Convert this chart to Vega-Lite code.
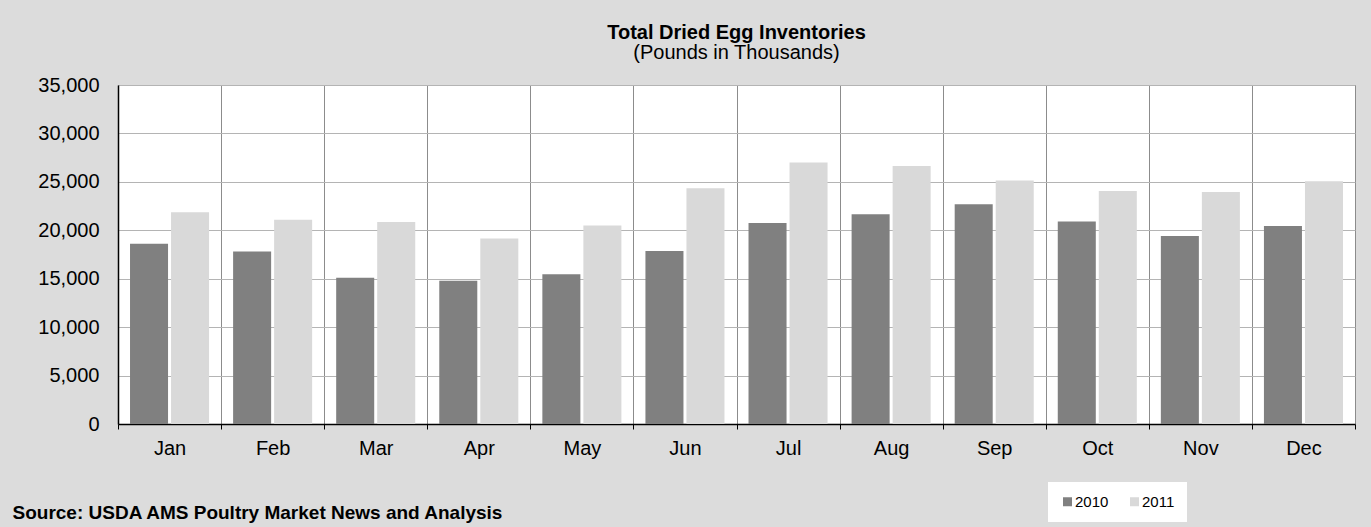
{
  "$schema": "https://vega.github.io/schema/vega-lite/v6.json",
  "width": 1237,
  "height": 339,
  "autosize": {"type": "none"},
  "padding": {"left": 118, "top": 85, "right": 16, "bottom": 103},
  "background": "#dcdcdc",
  "title": {
    "text": "Total Dried Egg Inventories",
    "subtitle": "(Pounds in Thousands)",
    "font": "Liberation Sans",
    "fontSize": 20,
    "fontWeight": "bold",
    "color": "#000000",
    "subtitleFont": "Liberation Sans",
    "subtitleFontSize": 20,
    "subtitleColor": "#000000",
    "subtitlePadding": 0,
    "anchor": "middle",
    "offset": 12
  },
  "data": {
    "values": [
      {"month": "Jan", "year": "2010", "value": 18600},
      {"month": "Jan", "year": "2011", "value": 21850},
      {"month": "Feb", "year": "2010", "value": 17800},
      {"month": "Feb", "year": "2011", "value": 21100},
      {"month": "Mar", "year": "2010", "value": 15100},
      {"month": "Mar", "year": "2011", "value": 20850},
      {"month": "Apr", "year": "2010", "value": 14800},
      {"month": "Apr", "year": "2011", "value": 19150},
      {"month": "May", "year": "2010", "value": 15450},
      {"month": "May", "year": "2011", "value": 20500},
      {"month": "Jun", "year": "2010", "value": 17850},
      {"month": "Jun", "year": "2011", "value": 24350},
      {"month": "Jul", "year": "2010", "value": 20750},
      {"month": "Jul", "year": "2011", "value": 27000},
      {"month": "Aug", "year": "2010", "value": 21650},
      {"month": "Aug", "year": "2011", "value": 26650},
      {"month": "Sep", "year": "2010", "value": 22700},
      {"month": "Sep", "year": "2011", "value": 25150},
      {"month": "Oct", "year": "2010", "value": 20900},
      {"month": "Oct", "year": "2011", "value": 24050},
      {"month": "Nov", "year": "2010", "value": 19400},
      {"month": "Nov", "year": "2011", "value": 23950},
      {"month": "Dec", "year": "2010", "value": 20450},
      {"month": "Dec", "year": "2011", "value": 25050}
    ]
  },
  "mark": {"type": "bar"},
  "encoding": {
    "x": {
      "field": "month",
      "type": "nominal",
      "sort": ["Jan", "Feb", "Mar", "Apr", "May", "Jun", "Jul", "Aug", "Sep", "Oct", "Nov", "Dec"],
      "scale": {"paddingInner": 0, "paddingOuter": 0},
      "axis": {
        "title": "Source: USDA AMS Poultry Market News and Analysis",
        "titleFont": "Liberation Sans",
        "titleFontSize": 19,
        "titleFontWeight": "bold",
        "titleColor": "#000000",
        "titleAnchor": "start",
        "titleAlign": "left",
        "titleBaseline": "alphabetic",
        "titleX": -106,
        "titleY": 94,
        "labelFont": "Liberation Sans",
        "labelFontSize": 20,
        "labelColor": "#000000",
        "labelAngle": 0,
        "labelPadding": 9,
        "tickBand": "extent",
        "tickSize": 5,
        "tickColor": "#000000",
        "domainColor": "#000000",
        "domainWidth": 1.5,
        "grid": true,
        "gridColor": "#8c8c8c",
        "gridWidth": 1
      }
    },
    "xOffset": {
      "field": "year",
      "type": "nominal",
      "scale": {"paddingInner": 0.073, "paddingOuter": 0.293}
    },
    "y": {
      "field": "value",
      "type": "quantitative",
      "scale": {"domain": [0, 35000], "nice": false},
      "axis": {
        "title": null,
        "values": [0, 5000, 10000, 15000, 20000, 25000, 30000, 35000],
        "format": ",.0f",
        "labelFont": "Liberation Sans",
        "labelFontSize": 20,
        "labelColor": "#000000",
        "labelPadding": 19,
        "tickSize": 0,
        "domainColor": "#000000",
        "domainWidth": 1.5,
        "grid": true,
        "gridColor": "#b4b4b4",
        "gridWidth": 1
      }
    },
    "color": {
      "field": "year",
      "type": "nominal",
      "scale": {"range": ["#808080", "#d9d9d9"]},
      "legend": {
        "title": null,
        "orient": "none",
        "legendX": 930,
        "legendY": 397,
        "direction": "horizontal",
        "fillColor": "#ffffff",
        "padding": 12,
        "symbolType": "square",
        "symbolSize": 81,
        "symbolStrokeWidth": 0,
        "labelFont": "Liberation Sans",
        "labelFontSize": 15,
        "labelColor": "#000000",
        "labelOffset": 0,
        "columnPadding": 18
      }
    }
  },
  "config": {
    "view": {"stroke": "#808080", "fill": "#ffffff"}
  }
}
